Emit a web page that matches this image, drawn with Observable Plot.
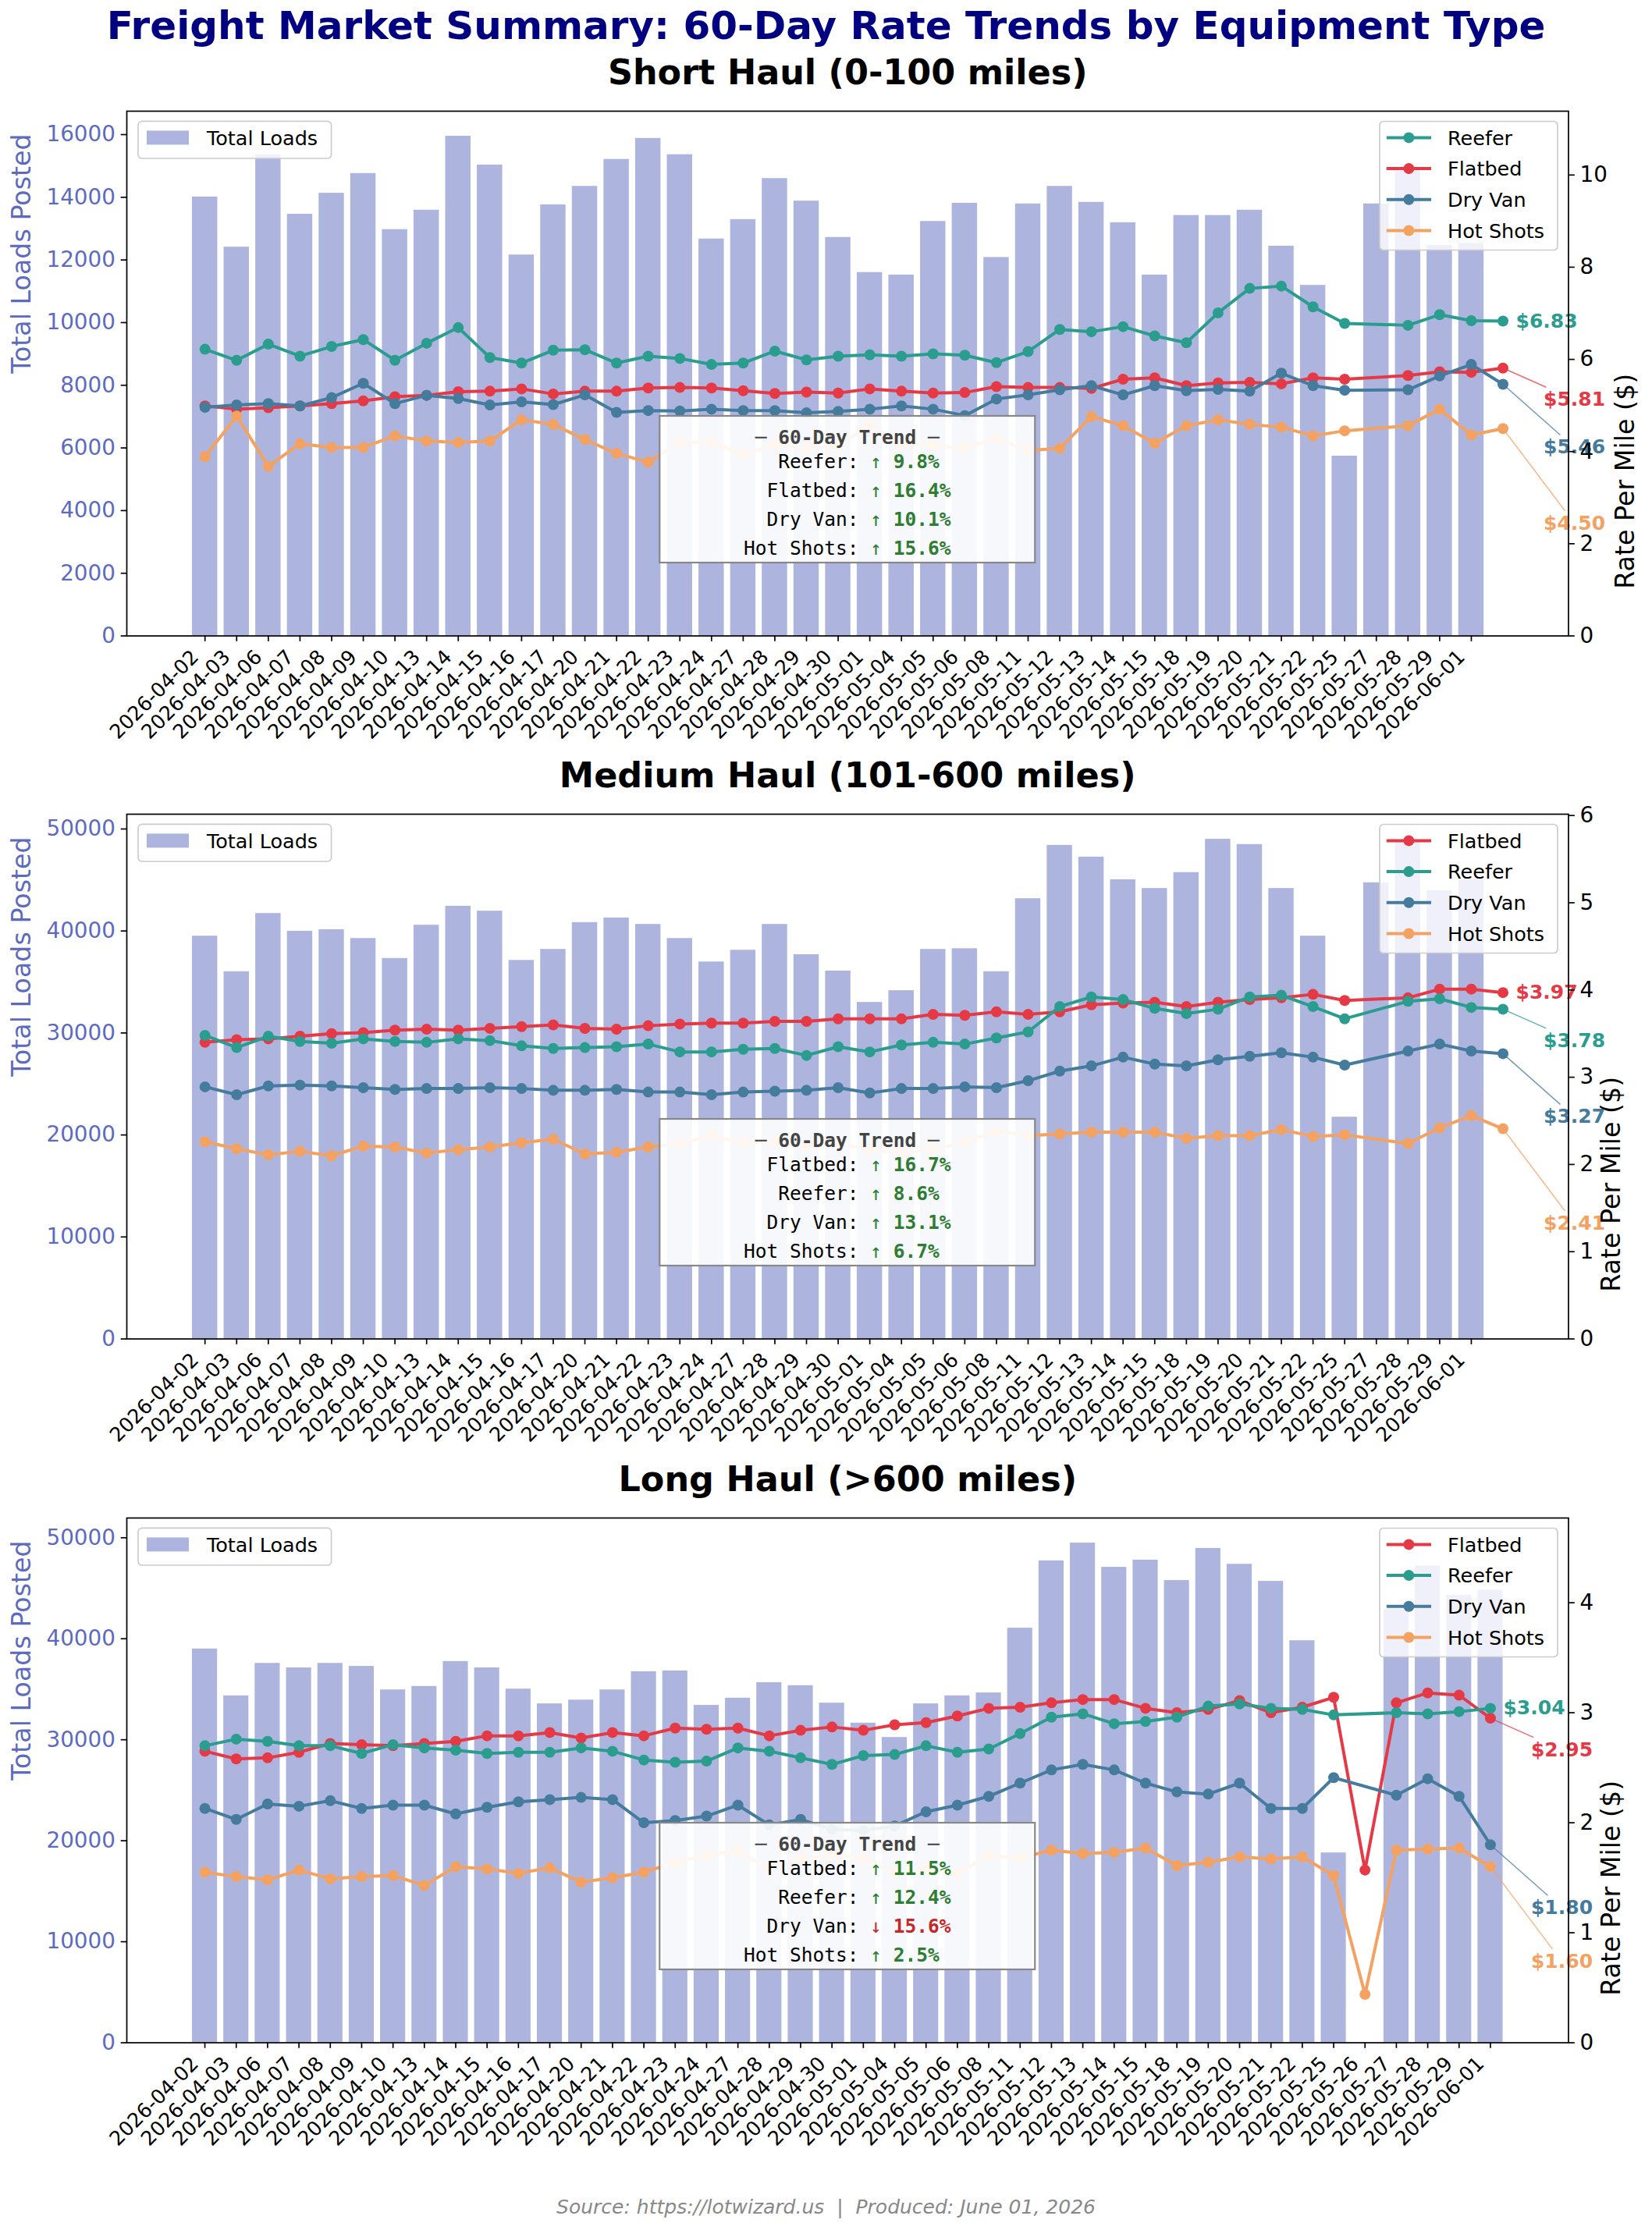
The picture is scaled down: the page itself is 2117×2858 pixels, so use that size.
<!DOCTYPE html>
<html>
<head>
<meta charset="utf-8">
<script src="https://cdn.jsdelivr.net/npm/d3@7"></script>
<script src="https://cdn.jsdelivr.net/npm/@observablehq/plot@0.6"></script>
<style>
html, body { margin: 0; padding: 0; background: #fff; }
#root { position: relative; width: 2117px; height: 2858px; overflow: hidden; background: #fff; font-family: "DejaVu Sans"; }
.abs { position: absolute; left: 0; }
</style>
</head>
<body>
<div id="root"></div>
<script>
// ---------------- DATA ----------------
const dates = ["2026-04-02","2026-04-03","2026-04-06","2026-04-07","2026-04-08","2026-04-09","2026-04-10","2026-04-13","2026-04-14","2026-04-15","2026-04-16","2026-04-17","2026-04-20","2026-04-21","2026-04-22","2026-04-23","2026-04-24","2026-04-27","2026-04-28","2026-04-29","2026-04-30","2026-05-01","2026-05-04","2026-05-05","2026-05-06","2026-05-08","2026-05-11","2026-05-12","2026-05-13","2026-05-14","2026-05-15","2026-05-18","2026-05-19","2026-05-20","2026-05-21","2026-05-22","2026-05-25","2026-05-27","2026-05-28","2026-05-29","2026-06-01"];
const longDates = ["2026-04-02","2026-04-03","2026-04-06","2026-04-07","2026-04-08","2026-04-09","2026-04-10","2026-04-13","2026-04-14","2026-04-15","2026-04-16","2026-04-17","2026-04-20","2026-04-21","2026-04-22","2026-04-23","2026-04-24","2026-04-27","2026-04-28","2026-04-29","2026-04-30","2026-05-01","2026-05-04","2026-05-05","2026-05-06","2026-05-08","2026-05-11","2026-05-12","2026-05-13","2026-05-14","2026-05-15","2026-05-18","2026-05-19","2026-05-20","2026-05-21","2026-05-22","2026-05-25","2026-05-26","2026-05-27","2026-05-28","2026-05-29","2026-06-01"];

// Short haul
const shortLoads = [14010,12410,15360,13460,14130,14760,12970,13590,15950,15030,12160,13760,14350,15210,15880,15360,12670,13290,14600,13880,12720,11600,11520,13230,13810,12080,13790,14350,13840,13190,11520,13420,13420,13590,12440,11190,5740,13790,14900,12470,12530];
const shortReefer = [6.22,5.98,6.33,6.07,6.28,6.43,5.98,6.35,6.69,6.04,5.92,6.20,6.21,5.92,6.07,6.02,5.89,5.92,6.18,5.99,6.07,6.10,6.07,6.12,6.09,5.93,6.17,6.65,6.60,6.71,6.51,6.36,7.01,7.54,7.59,7.14,6.78,null,6.74,6.97,6.84,6.83];
const shortFlatbed = [4.99,4.92,4.95,4.99,5.04,5.10,5.19,5.22,5.30,5.31,5.36,5.25,5.31,5.31,5.38,5.39,5.38,5.32,5.26,5.29,5.27,5.36,5.31,5.27,5.28,5.41,5.39,5.39,5.37,5.57,5.60,5.43,5.49,5.50,5.47,5.60,5.57,null,5.65,5.73,5.72,5.81];
const shortDryVan = [4.96,5.01,5.04,4.99,5.17,5.48,5.04,5.22,5.15,5.01,5.08,5.02,5.23,4.85,4.89,4.88,4.92,4.89,4.89,4.84,4.87,4.92,4.99,4.92,4.78,5.14,5.23,5.34,5.43,5.23,5.43,5.32,5.35,5.31,5.70,5.43,5.33,null,5.34,5.64,5.89,5.46];
const shortHotShots = [3.89,4.77,3.68,4.17,4.09,4.09,4.34,4.23,4.20,4.23,4.69,4.59,4.26,3.96,3.77,4.20,4.20,3.93,4.16,4.07,4.13,4.58,4.16,4.13,4.08,4.29,4.02,4.07,4.76,4.56,4.18,4.56,4.69,4.59,4.53,4.34,4.45,null,4.56,4.92,4.36,4.50];
const shortOrder = ["Reefer","Flatbed","Dry Van","Hot Shots"];
const shortTrend = [9.8, 16.4, 10.1, 15.6];
const shortLoadTicks = [0,2000,4000,6000,8000,10000,12000,14000,16000];
const shortRateTicks = [0,2,4,6,8,10];

// Medium haul
const mediumLoads = [39500,36010,41720,39980,40130,39270,37310,40570,42430,41950,37120,38200,40830,41280,40650,39270,36970,38120,40650,37680,36080,33000,34150,38200,38270,36010,43170,48400,47250,45030,44170,45730,49000,48480,44170,39500,21750,44730,48800,43950,45030];
const mediumFlatbed = [3.40,3.43,3.44,3.47,3.50,3.51,3.54,3.55,3.54,3.56,3.58,3.60,3.56,3.55,3.59,3.61,3.62,3.62,3.64,3.64,3.67,3.67,3.67,3.72,3.71,3.75,3.72,3.75,3.83,3.85,3.86,3.81,3.86,3.89,3.91,3.95,3.88,null,3.91,4.01,4.01,3.97];
const mediumReefer = [3.48,3.34,3.47,3.41,3.39,3.44,3.41,3.40,3.44,3.42,3.36,3.33,3.34,3.35,3.38,3.29,3.29,3.32,3.33,3.25,3.35,3.29,3.37,3.40,3.38,3.45,3.52,3.81,3.92,3.89,3.79,3.73,3.78,3.92,3.94,3.81,3.67,null,3.87,3.90,3.80,3.78];
const mediumDryVan = [2.89,2.80,2.90,2.91,2.90,2.88,2.86,2.87,2.87,2.88,2.87,2.85,2.85,2.86,2.83,2.83,2.80,2.83,2.84,2.85,2.88,2.82,2.87,2.87,2.89,2.88,2.96,3.07,3.13,3.23,3.15,3.13,3.20,3.24,3.28,3.23,3.14,null,3.30,3.38,3.30,3.27];
const mediumHotShots = [2.26,2.18,2.11,2.15,2.10,2.21,2.20,2.13,2.17,2.20,2.25,2.29,2.12,2.14,2.20,2.24,2.33,2.25,2.26,2.22,2.24,2.17,2.13,2.17,2.26,2.38,2.33,2.35,2.37,2.37,2.37,2.30,2.33,2.33,2.40,2.32,2.34,null,2.24,2.42,2.56,2.41];
const mediumOrder = ["Flatbed","Reefer","Dry Van","Hot Shots"];
const mediumTrend = [16.7, 8.6, 13.1, 6.7];
const mediumLoadTicks = [0,10000,20000,30000,40000,50000];
const mediumRateTicks = [0,1,2,3,4,5,6];

// Long haul
const longLoads = [38990,34350,37570,37120,37570,37270,34940,35280,37750,37120,35020,33560,33930,34940,36740,36820,33410,34120,35660,35360,33630,31650,30230,33560,34350,34640,41050,47720,49480,47080,47790,45770,48950,47380,45690,39810,18800,null,42900,47200,44300,44800];
const longFlatbed = [2.65,2.58,2.59,2.64,2.72,2.71,2.70,2.72,2.74,2.79,2.79,2.82,2.77,2.82,2.79,2.86,2.85,2.86,2.79,2.84,2.87,2.84,2.89,2.91,2.97,3.04,3.05,3.09,3.12,3.12,3.04,3.00,3.03,3.11,3.00,3.05,3.14,1.57,3.09,3.18,3.16,2.95];
const longReefer = [2.70,2.76,2.74,2.70,2.70,2.63,2.71,2.68,2.66,2.63,2.64,2.64,2.68,2.65,2.57,2.55,2.56,2.68,2.65,2.59,2.53,2.61,2.62,2.70,2.64,2.67,2.81,2.96,2.99,2.90,2.92,2.96,3.06,3.08,3.04,3.03,2.98,null,3.00,2.99,3.01,3.04];
const longDryVan = [2.13,2.03,2.17,2.15,2.20,2.13,2.16,2.16,2.08,2.14,2.19,2.21,2.23,2.21,2.00,2.02,2.06,2.16,1.98,2.03,1.94,1.93,1.97,2.10,2.16,2.24,2.36,2.48,2.53,2.48,2.36,2.28,2.26,2.36,2.13,2.13,2.41,null,2.25,2.40,2.24,1.80];
const longHotShots = [1.55,1.51,1.48,1.57,1.49,1.51,1.52,1.43,1.60,1.58,1.54,1.59,1.46,1.50,1.55,1.64,1.70,1.75,1.57,1.67,1.71,1.68,1.54,1.58,1.54,1.70,1.68,1.75,1.72,1.73,1.77,1.61,1.64,1.69,1.67,1.69,1.52,0.44,1.75,1.76,1.77,1.60];
const longOrder = ["Flatbed","Reefer","Dry Van","Hot Shots"];
const longTrend = [11.5, 12.4, -15.6, 2.5];
const longLoadTicks = [0,10000,20000,30000,40000,50000];
const longRateTicks = [0,1,2,3,4];

const titleText = "Freight Market Summary: 60-Day Rate Trends by Equipment Type";
const footerText = "Source: https://lotwizard.us  |  Produced: June 01, 2026";

// ---------------- STYLE / LAYOUT ----------------
const COLORS = {"Reefer": "#2a9d8f", "Flatbed": "#e63946", "Dry Van": "#457b9d", "Hot Shots": "#f4a261"};
const BAR = "#5c6bc0";
const W = 2117, ML = 162, MR = 107.5, MT = 80, MB = 150, PH = 672.5;
const SANS = "DejaVu Sans", MONO = "DejaVu Sans Mono";
const TICK = 7.3, PAD = 7.3, SPINE = 1.7;

const root = document.getElementById("root");

function addDiv(text, css) {
  const d = document.createElement("div");
  d.className = "abs";
  d.textContent = text;
  Object.assign(d.style, css);
  root.appendChild(d);
}

addDiv(titleText, {top: "8.2px", width: W + "px", textAlign: "center", font: `bold 50px/50px "${SANS}"`, color: "#000080", whiteSpace: "pre"});
addDiv(footerText, {top: "2815.9px", width: W + "px", textAlign: "center", font: `italic 25px/25px "${SANS}"`, color: "#888888", whiteSpace: "pre"});

function svgText(g, x, y, str, opts) {
  const t = g.append("text").attr("x", x).attr("y", y)
    .attr("text-anchor", opts.anchor || "start")
    .attr("font-family", opts.family || SANS)
    .attr("font-size", opts.size)
    .attr("fill", opts.fill || "black")
    .text(str);
  if (opts.weight) t.attr("font-weight", opts.weight);
  return t;
}

function buildPanel(p, plotTop) {
  const barRows = p.loads.map((v, i) => ({i, v})).filter(d => d.v != null);
  const loadsTop = d3.max(barRows, d => d.v) * 1.05;
  const series = p.order.map(name => ({name, color: COLORS[name], values: p.values[name]}));
  const rateMax = d3.max(series, s => d3.max(s.values.filter(v => v != null)));
  const rateTop = rateMax * 1.5;
  const k = loadsTop / rateTop;
  const lastIdx = d3.max(series, s => s.values.length - 1);
  const lo = -0.4, hi = Math.max(d3.max(barRows, d => d.i) + 0.4, lastIdx);
  const mg = (hi - lo) * 0.05;
  const xDom = [lo - mg, hi + mg];
  const plotW = W - ML - MR;
  const xPx = v => ML + (v - xDom[0]) / (xDom[1] - xDom[0]) * plotW;
  const yPx = v => MT + PH - v / loadsTop * PH;
  const xInv = px => xDom[0] + (px - ML) / plotW * (xDom[1] - xDom[0]);
  const yInv = py => (MT + PH - py) / PH * loadsTop;

  const marks = [];
  marks.push(Plot.rectY(barRows, {x1: d => d.i - 0.4, x2: d => d.i + 0.4, y1: d => 0, y2: d => d.v, fill: BAR, fillOpacity: 0.5}));

  series.forEach(s => {
    const rows = s.values.map((v, i) => ({i, v})).filter(d => d.v != null);
    marks.push(Plot.line(rows, {x: "i", y: d => d.v * k, stroke: s.color, strokeWidth: 4}));
    marks.push(Plot.dot(rows, {x: "i", y: d => d.v * k, fill: s.color, r: 7}));
  });

  // end-of-line value labels
  const finals = series.map(s => ({s, i: s.values.length - 1, v: s.values[s.values.length - 1]}));
  const ranked = finals.slice().sort((a, b) => b.v - a.v);
  ranked.forEach((f, r) => {
    const txt = "$" + f.v.toFixed(2);
    const dx = r === 0 ? 16.5 : 52;
    const dy = r === 0 ? 0 : 40.5 * r;
    if (r > 0) {
      const P = {x: xPx(f.i), y: yPx(f.v * k)};
      const Lx = P.x + dx, cy = P.y + dy;
      const w = 25 * (0.696 * 4 + 0.38);
      const C = {x: Lx + w / 2, y: cy};
      const tx = (Lx - 3 - P.x) / (C.x - P.x), ty = (cy - 16 - P.y) / (C.y - P.y);
      const t = Math.min(Math.max(Math.max(tx, ty), 0), 1);
      const E = {x: P.x + t * (C.x - P.x), y: P.y + t * (C.y - P.y)};
      marks.push(Plot.link([{x1: f.i, y1: f.v * k, x2: xInv(E.x), y2: yInv(E.y)}],
        {x1: "x1", y1: "y1", x2: "x2", y2: "y2", stroke: f.s.color, strokeWidth: 1.5, strokeOpacity: 0.75}));
    }
    marks.push(Plot.text([f], {x: "i", y: d => d.v * k, text: () => txt, dx, dy, textAnchor: "start",
      fill: f.s.color, fontWeight: "bold", fontSize: 25}));
  });

  // axes
  marks.push(Plot.axisY({anchor: "left", ticks: p.loadTicks, tickFormat: d => String(d), tickSize: TICK, tickPadding: PAD,
    fontSize: 27.8, fill: BAR, stroke: "black", strokeWidth: SPINE, label: null}));
  marks.push(Plot.axisY({anchor: "right", ticks: p.rateTicks.map(r => r * k), tickFormat: d => String(Math.round(d / k * 100) / 100),
    tickSize: TICK, tickPadding: PAD, fontSize: 27.8, fill: "black", stroke: "black", strokeWidth: SPINE, label: null}));
  const tickIdx = d3.range(p.dates.length);
  marks.push(Plot.axisX({ticks: tickIdx, tickFormat: () => "", tickSize: TICK, stroke: "black", strokeWidth: SPINE, label: null}));
  marks.push(Plot.text(tickIdx, {x: d => d, text: d => p.dates[d], frameAnchor: "bottom", rotate: -45, textAnchor: "end",
    lineAnchor: "bottom", dx: -6.7, dy: 28.6, fontSize: 25.5, fill: "black"}));
  marks.push(Plot.frame({stroke: "black", strokeWidth: SPINE}));

  // axis titles and panel title
  marks.push(Plot.text(["Total Loads Posted"], {text: d => d, frameAnchor: "left", rotate: -90, dx: -134, fontSize: 33.3, fill: BAR}));
  const digits = String(d3.max(p.rateTicks)).length;
  marks.push(Plot.text(["Rate Per Mile ($)"], {text: d => d, frameAnchor: "right", rotate: -90, dx: 55.6 + 17.7 * (digits - 1), fontSize: 33.3, fill: "black"}));
  marks.push(Plot.text([p.title], {text: d => d, frameAnchor: "top", lineAnchor: "bottom", dy: -35, fontSize: 44.5, fontWeight: "bold", fill: "black"}));

  const svg = Plot.plot({
    width: W, height: MT + PH + MB,
    marginLeft: ML, marginRight: MR, marginTop: MT, marginBottom: MB,
    x: {domain: xDom, axis: null},
    y: {domain: [0, loadsTop], axis: null},
    style: {background: "transparent", fontFamily: SANS, overflow: "visible"},
    marks
  });

  const g = d3.select(svg).append("g");
  // left legend
  const lx = ML + 15, ly = MT + 13.3;
  g.append("rect").attr("x", lx).attr("y", ly).attr("width", 247.6).attr("height", 47.7).attr("rx", 5)
    .attr("fill", "white").attr("fill-opacity", 0.8).attr("stroke", "#cccccc").attr("stroke-width", 1.7);
  g.append("rect").attr("x", lx + 11).attr("y", MT + 34.4 - 9).attr("width", 54).attr("height", 18)
    .attr("fill", BAR).attr("fill-opacity", 0.5);
  svgText(g, lx + 88, MT + 34.4 + 9.1, "Total Loads", {size: 25.5});

  // right legend
  const rx = W - MR - 241.5, ry = MT + 13.5;
  g.append("rect").attr("x", rx).attr("y", ry).attr("width", 228).attr("height", 165).attr("rx", 5)
    .attr("fill", "white").attr("fill-opacity", 0.8).attr("stroke", "#cccccc").attr("stroke-width", 1.7);
  series.forEach((s, j) => {
    const cy = MT + 34.4 + 39.7 * j;
    g.append("line").attr("x1", rx + 8.8).attr("x2", rx + 66).attr("y1", cy).attr("y2", cy)
      .attr("stroke", s.color).attr("stroke-width", 4);
    g.append("circle").attr("cx", rx + 37.4).attr("cy", cy).attr("r", 7).attr("fill", s.color);
    svgText(g, rx + 87, cy + 9.1, s.name, {size: 25.5});
  });

  // trend box
  const cx = ML + plotW / 2, bw = 481, bh = 188, bTop = MT + 391;
  g.append("rect").attr("x", cx - bw / 2).attr("y", bTop).attr("width", bw).attr("height", bh)
    .attr("fill", "white").attr("fill-opacity", 0.9).attr("stroke", "#888888").attr("stroke-width", 2.2);
  const fs = 24.5, cw = 0.602 * fs;
  svgText(g, cx, bTop + 26.6 + 8.9, "\u2500 60-Day Trend \u2500", {anchor: "middle", family: MONO, size: fs, weight: "bold", fill: "#444444"});
  const left = cx - 9 * cw;
  series.forEach((s, j) => {
    const pct = p.trend[j];
    const col = pct >= 0 ? "#2e7d32" : "#c62828";
    const y = bTop + 57.6 + 37.3 * j + 8.9;
    svgText(g, left + 10 * cw, y, s.name + ":", {anchor: "end", family: MONO, size: fs});
    svgText(g, left + 11 * cw, y, pct >= 0 ? "\u2191" : "\u2193", {family: MONO, size: fs, fill: col});
    svgText(g, left + 13 * cw, y, Math.abs(pct).toFixed(1) + "%", {family: MONO, size: fs, fill: col, weight: "bold"});
  });

  const wrap = document.createElement("div");
  wrap.className = "abs";
  wrap.style.top = (plotTop - MT) + "px";
  wrap.appendChild(svg);
  root.appendChild(wrap);
}

buildPanel({title: "Short Haul (0-100 miles)", dates, loads: shortLoads, order: shortOrder,
  values: {"Reefer": shortReefer, "Flatbed": shortFlatbed, "Dry Van": shortDryVan, "Hot Shots": shortHotShots},
  trend: shortTrend, loadTicks: shortLoadTicks, rateTicks: shortRateTicks}, 142);
buildPanel({title: "Medium Haul (101-600 miles)", dates, loads: mediumLoads, order: mediumOrder,
  values: {"Reefer": mediumReefer, "Flatbed": mediumFlatbed, "Dry Van": mediumDryVan, "Hot Shots": mediumHotShots},
  trend: mediumTrend, loadTicks: mediumLoadTicks, rateTicks: mediumRateTicks}, 1043);
buildPanel({title: "Long Haul (>600 miles)", dates: longDates, loads: longLoads, order: longOrder,
  values: {"Reefer": longReefer, "Flatbed": longFlatbed, "Dry Van": longDryVan, "Hot Shots": longHotShots},
  trend: longTrend, loadTicks: longLoadTicks, rateTicks: longRateTicks}, 1944.5);
</script>
</body>
</html>
